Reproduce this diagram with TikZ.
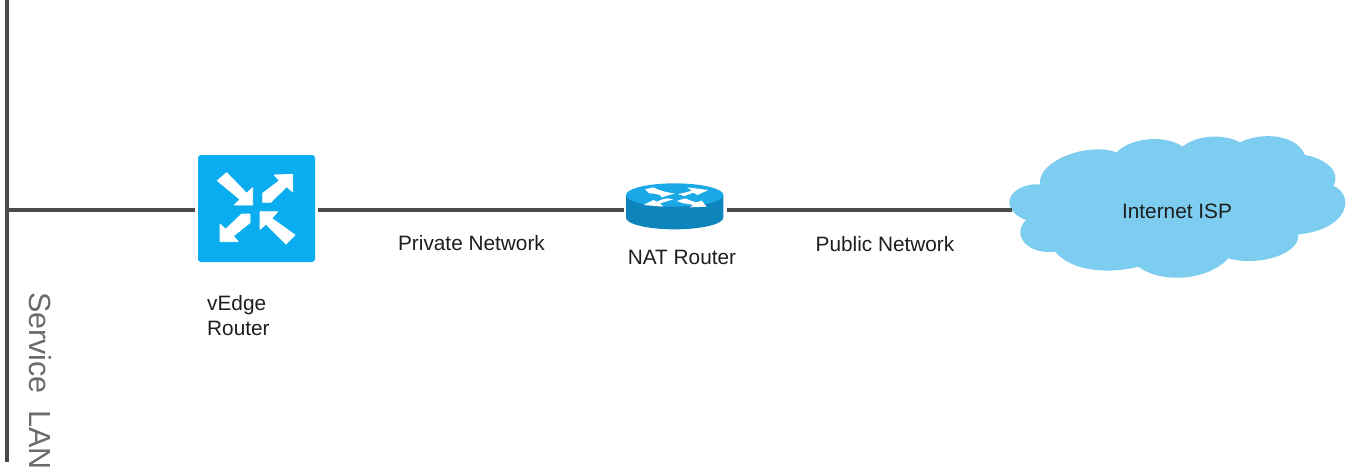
\documentclass[tikz,border=0pt]{standalone}
\usepackage{fontspec}
\setmainfont{Liberation Sans}
\definecolor{linegray}{HTML}{4A4A4A}
\definecolor{lantext}{HTML}{6A6A6A}
\definecolor{lblack}{HTML}{1E1E1E}
\definecolor{switchblue}{HTML}{0AAEF0}
\definecolor{routertop}{HTML}{1BA8E6}
\definecolor{routerside}{HTML}{0D85BC}
\definecolor{cloudblue}{HTML}{7CCDF0}
\tikzset{
  link/.style={draw=linegray,line width=3.05pt},
  lbl/.style={font=\fontsize{20.8}{24}\selectfont,text=lblack,inner sep=0pt},
  glyph/.style={fill=white,draw=white,line width=0.8pt,line join=round},
}
\begin{document}
\begin{tikzpicture}[x=1pt,y=-1pt]
\useasboundingbox[fill=white] (0,0) rectangle (1350,475);
% anchors
\coordinate (bustop) at (7,0);
\coordinate (busbot) at (7,462);
\coordinate (junction) at (7,210);
\coordinate (cloudtip) at (1012,210);
% cloud
\begin{scope}[shift={(1000,125)},x=0.33333pt,y=-0.33333pt]
\fill[cloudblue] (28,232) .. controls (28,200) and (70,175) .. (120,178)
 .. controls (110,110) and (260,50) .. (350,82)
 .. controls (395,35) and (500,30) .. (548,65)
 .. controls (590,30) and (670,25) .. (720,52)
 .. controls (770,25) and (885,20) .. (915,90)
 .. controls (975,100) and (1025,140) .. (1000,182)
 .. controls (1070,215) and (1040,315) .. (895,328)
 .. controls (900,390) and (770,425) .. (685,400)
 .. controls (620,470) and (480,475) .. (415,425)
 .. controls (340,445) and (220,445) .. (165,380)
 .. controls (90,390) and (30,335) .. (78,285)
 .. controls (50,275) and (28,255) .. (28,232) -- cycle;
\end{scope}
% nodes
\node[fill=switchblue,rounded corners=3pt,minimum width=117pt,minimum height=107pt,outer sep=3pt,inner sep=0pt] (vedge) at (256.5,208.5) {};
\node[minimum width=99pt,minimum height=46pt,outer sep=2pt,inner sep=0pt] (nat) at (675,206) {};
% connectors
\draw[link] (bustop) -- (busbot);
\draw[link] (junction) -- (junction -| vedge.west);
\draw[link] (junction -| vedge.east) -- (junction -| nat.west);
\draw[link] (junction -| nat.east) -- (cloudtip);
% switch glyph
\begin{scope}[shift={(180,140)},x=0.33333pt,y=-0.33333pt]
\filldraw[glyph] (112,122) -- (140,98) -- (200,160) -- (218,143) -- (218,195) -- (163,195) -- (180,178) -- cycle;
\filldraw[glyph] (338,103) -- (338,155) -- (320,140) -- (272,187) -- (248,187) -- (248,160) -- (298,122) -- (283,105) -- cycle;
\filldraw[glyph] (120,305) -- (120,252) -- (137,268) -- (185,222) -- (210,222) -- (210,248) -- (160,288) -- (175,305) -- cycle;
\filldraw[glyph] (240,215) -- (293,215) -- (275,235) -- (345,285) -- (318,312) -- (258,252) -- (240,268) -- cycle;
\end{scope}
% router glyph
\begin{scope}[shift={(610,170)},x=0.33333pt,y=-0.33333pt]
\fill[routerside] (48,75) -- (48,143) arc[start angle=180,end angle=0,x radius=146,y radius=35] -- (340,75) -- cycle;
\fill[routertop] (194,75) ellipse[x radius=146,y radius=35];
\fill[white] (105,58) -- (130,52) .. controls (150,62) and (170,68) .. (195,70) -- (155,82) -- (150,75) .. controls (140,72) and (128,70) .. (118,70) -- cycle;
\fill[white] (203,72) .. controls (218,70) and (232,66) .. (245,62) -- (232,52) -- (295,60) -- (262,75) -- (250,68) .. controls (240,72) and (230,76) .. (222,78) -- cycle;
\fill[white] (190,88) -- (150,100) -- (160,110) -- (100,105) -- (130,90) -- (140,95) .. controls (150,90) and (160,87) .. (170,85) -- cycle;
\fill[white] (200,93) -- (225,85) .. controls (238,90) and (250,95) .. (260,97) -- (275,92) -- (290,110) -- (240,112) -- (250,105) .. controls (235,102) and (228,100) .. (220,100) -- cycle;
\end{scope}
% labels
\node[lbl] (privlbl) at (471.5,243) {Private Network};
\node[lbl] (publbl) at (885,244) {Public Network};
\node[lbl] (natlbl) at (682,257) {NAT Router};
\node[lbl] (isp) at (1177,211) {Internet ISP};
\node[lbl,anchor=west] (v1) at (207,305) {vEdge};
\node[lbl,anchor=west] (v2) at (207,328) {Router};
\node[inner sep=0pt,rotate=-90,text=lantext,font=\fontsize{30.5}{33}\selectfont] (lan) at (40,381) {Service\ \ LAN};
\end{tikzpicture}
\end{document}
